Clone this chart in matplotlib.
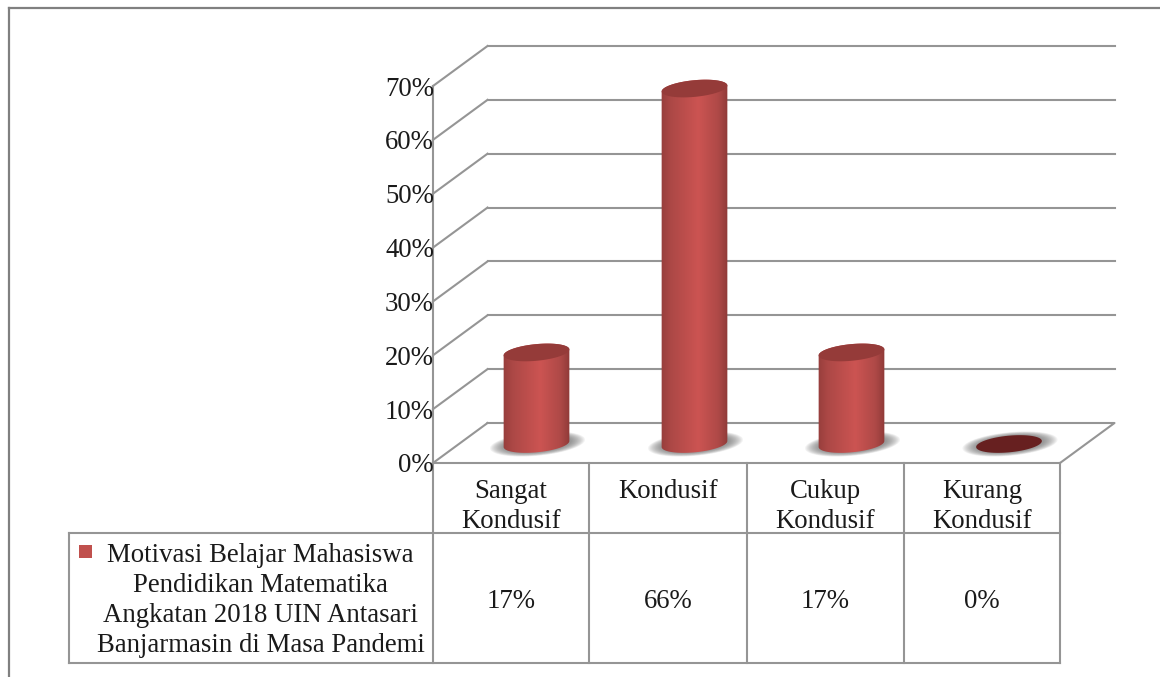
import numpy as np
import matplotlib
matplotlib.use("Agg")
import matplotlib.pyplot as plt
from matplotlib.colors import LinearSegmentedColormap
from matplotlib.patches import Polygon, Rectangle

categories = ["Sangat\nKondusif", "Kondusif", "Cukup\nKondusif", "Kurang\nKondusif"]
values = [17, 66, 17, 0]
value_labels = ["17%", "66%", "17%", "0%"]
y_ticks = [0, 10, 20, 30, 40, 50, 60, 70]
y_tick_labels = ["0%", "10%", "20%", "30%", "40%", "50%", "60%", "70%"]
series_name = ["Motivasi Belajar Mahasiswa", "Pendidikan Matematika",
               "Angkatan 2018 UIN Antasari", "Banjarmasin di Masa Pandemi"]

plt.rcParams["font.family"] = ["Liberation Serif", "DejaVu Serif"]
FS = 19.3
GRID = "#959595"
LW = 1.5
fig = plt.figure(figsize=(11.6, 6.77), dpi=100)
ax = fig.add_axes([0, 0, 1, 1])
ax.set_xlim(0, 1160)
ax.set_ylim(677, 0)
ax.axis("off")

# geometry of the pseudo-3D chart
x0, x1 = 433, 1060
y_zero, per_unit = 463, 377 / 70
dx, dy = 54.5, -40
col_edges = [433, 589, 747, 904, 1060]
centers = [536.5, 694.5, 851.5, 1009]
base_y = 444
ax_a, ax_b = 33, 8.3
tilt = np.deg2rad(-5.5)


def val_y(v, base=y_zero):
    return base - v * per_unit


def line(xs, ys, c=GRID, lw=LW, z=2):
    ax.plot(xs, ys, color=c, lw=lw, solid_capstyle="projecting", zorder=z)


def ell(cx, cy, a=ax_a, b=ax_b, t=None):
    if t is None:
        t = np.linspace(0, 2 * np.pi, 121)
    return (cx + a * np.cos(t) * np.cos(tilt) - b * np.sin(t) * np.sin(tilt),
            cy + a * np.cos(t) * np.sin(tilt) + b * np.sin(t) * np.cos(tilt))


# outer frame
line([9, 9], [8, 677], c="#808080", lw=1.6)
line([9, 1160], [8, 8], c="#808080", lw=1.6)

# walls, gridlines, floor
for v in y_ticks:
    y = val_y(v)
    line([x0, x0 + dx], [y, y + dy])
    if v > 0:
        line([x0 + dx, x1 + dx], [y + dy, y + dy])
line([x0, x0], [val_y(70), y_zero])
line([x0 + dx, x1 + dx, x1], [y_zero + dy, y_zero + dy, y_zero])
line([x0, x1], [y_zero, y_zero])

for v, lab in zip(y_ticks, y_tick_labels):
    ax.text(434, val_y(v), lab, ha="right", va="center_baseline", fontsize=FS, color="#1a1a1a",
            zorder=6)

# table
line([69, 1060], [533, 533])
line([69, 1060], [663, 663])
line([69, 69], [533, 663])
for x in col_edges:
    line([x, x], [y_zero, 663])

cmap = LinearSegmentedColormap.from_list(
    "cyl", [(0, "#973E3C"), (0.14, "#AC4846"), (0.55, "#CC5452"), (0.85, "#AE4947"), (1, "#8C3836")])
grad = np.linspace(0, 1, 128).reshape(1, -1)

for cx, v in zip(centers, values):
    # soft floor shadow
    for k in range(14):
        f = 1 + (13 - k) * 0.032
        xs, ys = ell(cx + 1, base_y, ax_a * f + 1, ax_b * f)
        ax.fill(xs, ys, color="#666666", alpha=0.07, lw=0, zorder=3)
    top_y = val_y(v, base_y)
    if v > 0:
        bx, by = ell(cx, base_y, t=np.linspace(0, np.pi, 60))
        ux, uy = ell(cx, top_y, t=np.linspace(np.pi, 2 * np.pi, 60))
        verts = np.column_stack([np.r_[bx, ux], np.r_[by, uy]])
        body = Polygon(verts, closed=True, transform=ax.transData, fc="none", ec="none")
        ax.add_patch(body)
        im = ax.imshow(grad, cmap=cmap, extent=[cx - ax_a - 1, cx + ax_a + 1, 470, top_y - 15],
                       aspect="auto", zorder=4, vmin=0, vmax=1, interpolation="bilinear")
        im.set_clip_path(body)
        xs, ys = ell(cx, top_y)
        ax.fill(xs, ys, color="#953B39", lw=0, zorder=5)
    else:
        xs, ys = ell(cx, top_y)
        ax.fill(xs, ys, color="#672020", lw=0, zorder=5)

ax.set_xlim(0, 1160)
ax.set_ylim(677, 0)

# table text
for i, (cat, lab) in enumerate(zip(categories, value_labels)):
    c = (col_edges[i] + col_edges[i + 1]) / 2
    for j, part in enumerate(cat.split("\n")):
        ax.text(c, 488.5 + j * 30.5, part, ha="center", va="center_baseline", fontsize=FS, color="#1a1a1a")
    ax.text(c, 599, lab, ha="center", va="center_baseline", fontsize=FS, color="#1a1a1a")

for j, part in enumerate(series_name):
    ax.text(260.5, 552 + j * 30.3, part, ha="center", va="center_baseline", fontsize=FS, color="#1a1a1a")
ax.add_patch(Rectangle((79, 545), 13, 13, fc="#C0504D", ec="none", zorder=5))

fig.savefig("out.png", dpi=100)
